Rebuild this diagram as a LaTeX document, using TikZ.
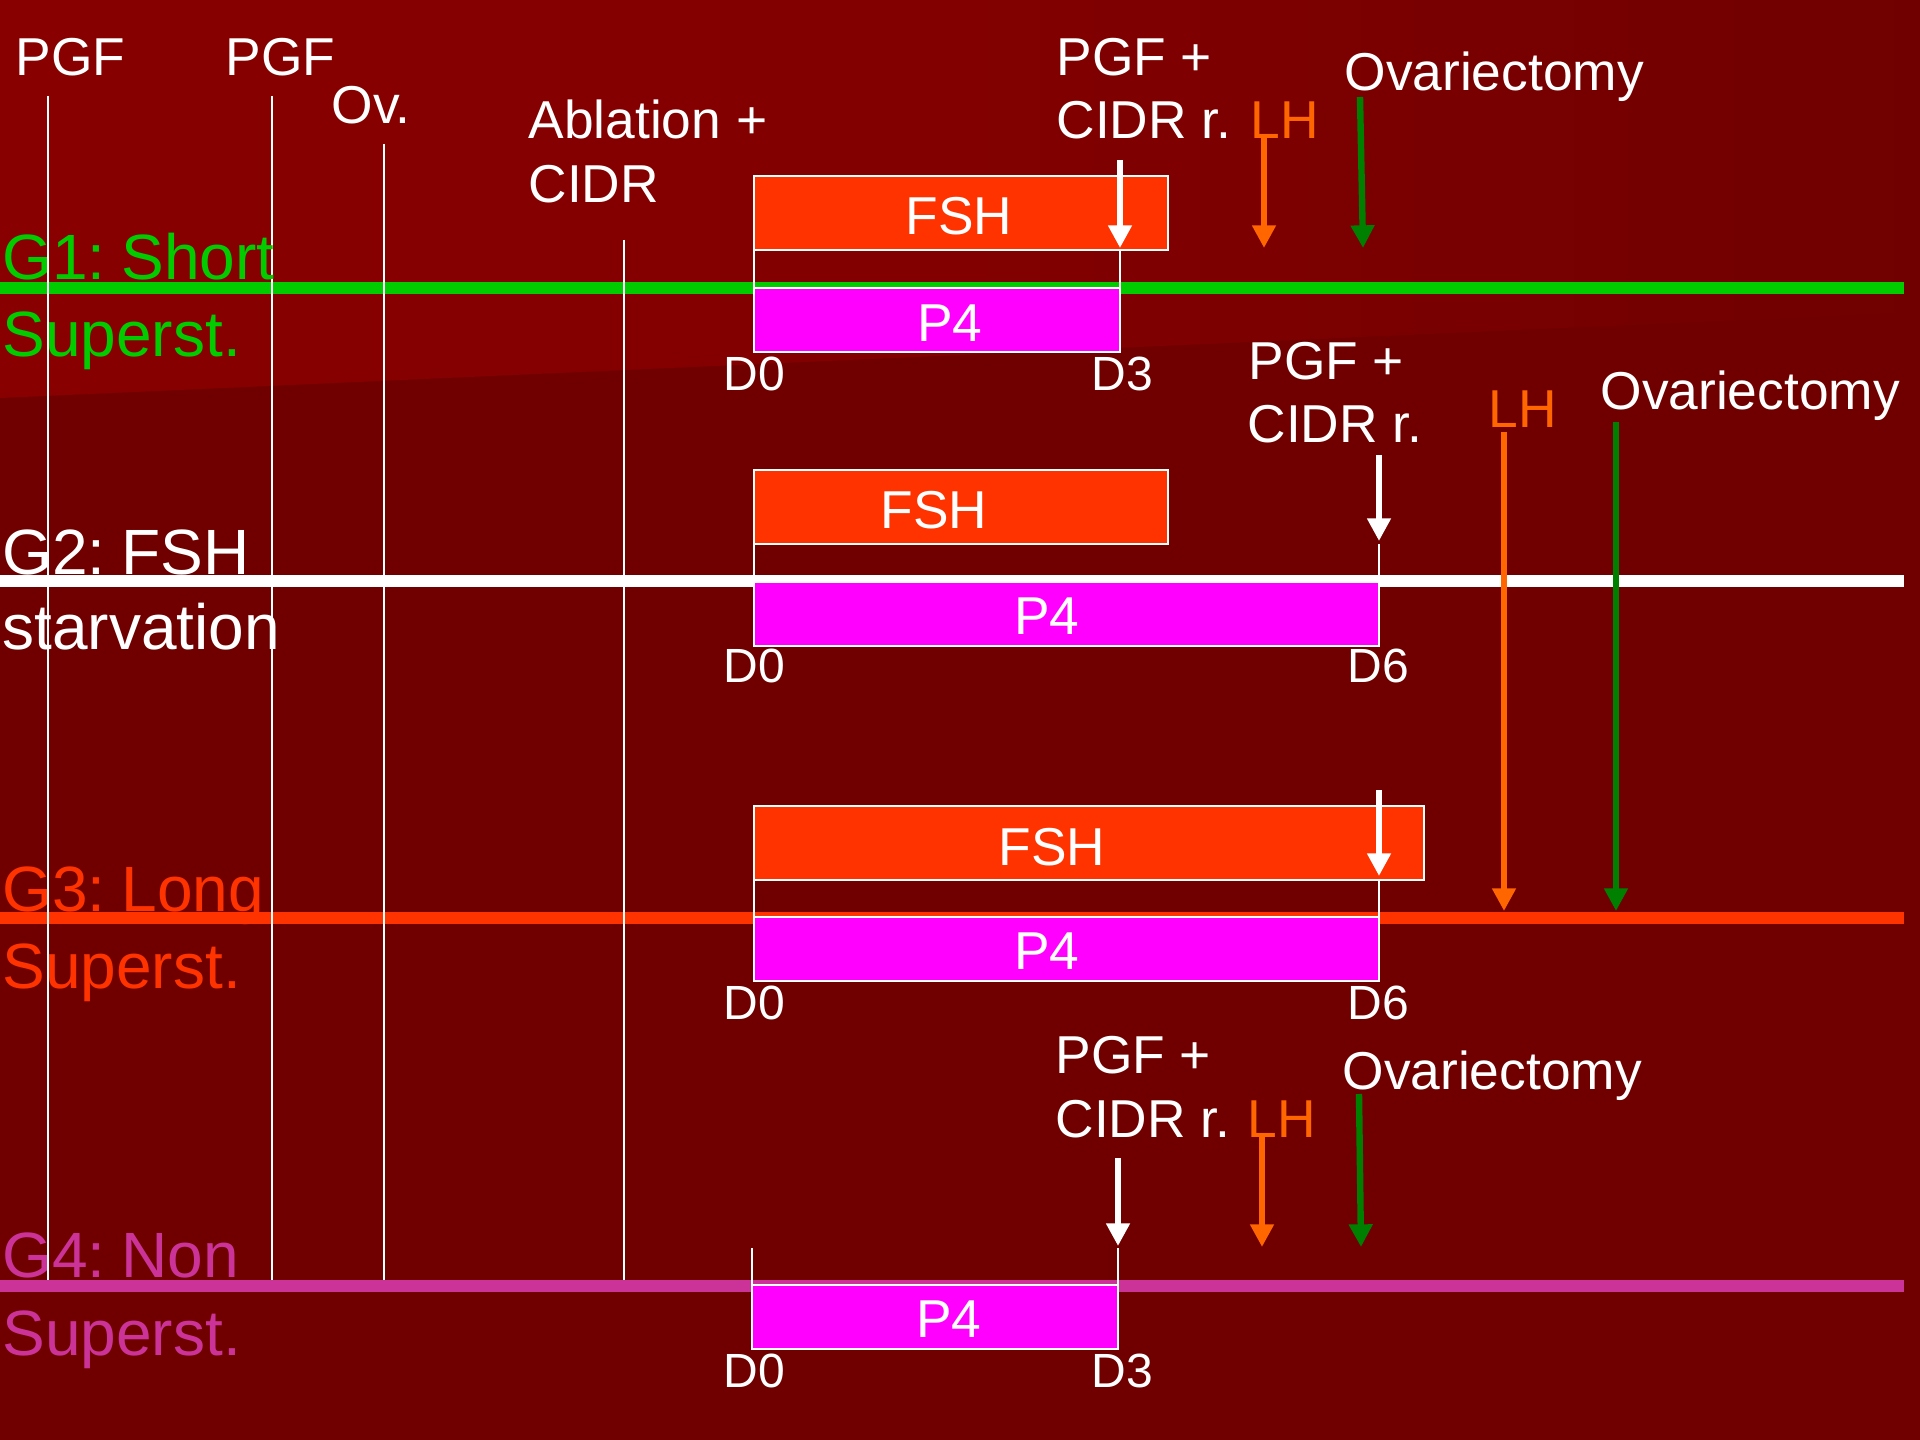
\documentclass[tikz,border=0pt]{standalone}
\usepackage{fontspec}
\setmainfont{Liberation Sans}
\usetikzlibrary{arrows.meta}
\definecolor{bgdark}{HTML}{700000}
\definecolor{bglight}{HTML}{880000}
\definecolor{gone}{HTML}{00CC00}
\definecolor{gthree}{HTML}{FF3300}
\definecolor{gfour}{HTML}{CC3399}
\definecolor{fshred}{HTML}{FF3300}
\definecolor{pmag}{HTML}{FF00FF}
\definecolor{lhorange}{HTML}{FF6600}
\definecolor{ovgreen}{HTML}{008000}
\tikzset{
  txt/.style={text=white, font=\fontsize{20}{24}\selectfont, anchor=base west, inner sep=0pt},
  boxtxt/.style={text=white, font=\fontsize{20}{24}\selectfont, anchor=base, inner sep=0pt},
  grptxt/.style={font=\fontsize{24}{29}\selectfont, anchor=base west, inner sep=0pt},
  daytxt/.style={text=white, font=\fontsize{18}{21}\selectfont, anchor=base west, inner sep=0pt},
  grpline/.style={line width=4.3pt},
  fshbox/.style={fill=fshred, draw=white, line width=0.75pt},
  pbox/.style={fill=pmag, draw=white, line width=0.75pt},
  thin/.style={draw=white, line width=0.75pt},
  marker/.style={white, line width=0.75pt},
  arr/.style={line width=2.4pt, -{Triangle[length=8.5pt, width=8.5pt]}},
}
\newcommand{\csp}{\hspace{0.25em}}
\begin{document}
\begin{tikzpicture}[x=0.375pt,y=-0.375pt]
\useasboundingbox (0,0) rectangle (1920,1440);
% background
\fill[bgdark] (0,0) rectangle (1920,1440);
\shade[left color=bglight, right color=bgdark, middle color=bglight!75!bgdark] (0,0) -- (1920,0) -- (1920,312) -- (0,398) -- cycle;

% group lines
\draw[grpline, gone] (0,288) -- (1904,288);
\draw[grpline, white] (0,581) -- (1904,581);
\draw[grpline, gthree] (0,918) -- (1904,918);
\draw[grpline, gfour] (0,1286) -- (1904,1286);

% boxes
\draw[fshbox] (754,176) rectangle (1168,250);
\draw[pbox] (754,288) rectangle (1120,352);
\draw[fshbox] (754,470) rectangle (1168,544);
\draw[pbox] (754,582) rectangle (1379,646);
\draw[fshbox] (754,806) rectangle (1424,880);
\draw[pbox] (754,917) rectangle (1379,981);
\draw[pbox] (752,1285) rectangle (1118,1349);

% thin connecting lines
\draw[thin] (754,250) -- (754,288);
\draw[thin] (1120,250) -- (1120,288);
\draw[thin] (754,544) -- (754,582);
\draw[thin] (1379,544) -- (1379,582);
\draw[thin] (754,880) -- (754,917);
\draw[thin] (1379,880) -- (1379,917);
\draw[thin] (752,1248) -- (752,1285);
\draw[thin] (1118,1248) -- (1118,1285);

% vertical event markers
\coordinate (m1t) at (48,96);   \coordinate (m1b) at (48,1280);
\coordinate (m2t) at (272,96);  \coordinate (m2b) at (272,1280);
\coordinate (m3t) at (384,144); \coordinate (m3b) at (384,1280);
\coordinate (m4t) at (624,240); \coordinate (m4b) at (624,1280);
\draw[marker] (m1t) -- (m1b);
\draw[marker] (m2t) -- (m2b);
\draw[marker] (m3t) -- (m3b);
\draw[marker] (m4t) -- (m4b);

% arrows G1
\coordinate (w1a) at (1120,160); \coordinate (w1b) at (1120,248);
\coordinate (o1a) at (1264,137); \coordinate (o1b) at (1264,248);
\coordinate (g1a) at (1360,97);  \coordinate (g1b) at (1363,248);
\draw[arr, white] (w1a) -- (w1b);
\draw[arr, lhorange] (o1a) -- (o1b);
\draw[arr, ovgreen] (g1a) -- (g1b);
% arrows G2
\coordinate (w2a) at (1379,455); \coordinate (w2b) at (1379,541);
\coordinate (o2a) at (1504,432); \coordinate (o2b) at (1504,911);
\coordinate (g2a) at (1616,422); \coordinate (g2b) at (1616,911);
\draw[arr, white] (w2a) -- (w2b);
\draw[arr, lhorange] (o2a) -- (o2b);
\draw[arr, ovgreen] (g2a) -- (g2b);
% arrows G3
\coordinate (w3a) at (1379,790); \coordinate (w3b) at (1379,876);
\draw[arr, white] (w3a) -- (w3b);
% arrows G4
\coordinate (w4a) at (1118,1158); \coordinate (w4b) at (1118,1246);
\coordinate (o4a) at (1262,1137); \coordinate (o4b) at (1262,1247);
\coordinate (g4a) at (1359,1094); \coordinate (g4b) at (1361,1247);
\draw[arr, white] (w4a) -- (w4b);
\draw[arr, lhorange] (o4a) -- (o4b);
\draw[arr, ovgreen] (g4a) -- (g4b);

% top-left labels
\node[txt] (pgf1) at (15,76) {PGF};
\node[txt] (pgf2) at (225,76) {PGF};
\node[txt] (ov) at (331,124) {Ov.};
\node[txt] (abl) at (528,139) {Ablation +};
\node[txt] (cidr) at (528,203) {CIDR};

% G1
\node[grptxt, text=gone] (g1l1) at (2,280) {G1:\csp Short};
\node[grptxt, text=gone] (g1l2) at (2,357) {Superst.};
\node[boxtxt] (fsh1t) at (959,235) {FSH};
\node[boxtxt] (p41t) at (950,342) {P4};
\node[daytxt] (d0a) at (723,391) {D0};
\node[daytxt] (d3a) at (1091,391) {D3};
\node[txt] (pgfa) at (1056,76) {PGF +};
\node[txt] (cidra) at (1056,139) {CIDR r.};
\node[txt, text=lhorange] (lha) at (1250,139) {LH};
\node[txt] (ovxa) at (1344,91) {Ovariectomy};

% G2
\node[grptxt, text=white] (g2l1) at (2,574) {G2:\csp FSH};
\node[grptxt, text=white] (g2l2) at (2,650) {starvation};
\node[boxtxt] (fsh2t) at (934,529) {FSH};
\node[boxtxt] (p42t) at (1047,634) {P4};
\node[daytxt] (d0b) at (723,682) {D0};
\node[daytxt] (d6b) at (1347,682) {D6};
\node[txt] (pgfb) at (1248,380) {PGF +};
\node[txt] (cidrb) at (1247,443) {CIDR r.};
\node[txt, text=lhorange] (lhb) at (1488,428) {LH};
\node[txt] (ovxb) at (1600,410) {Ovariectomy};

% G3
\node[grptxt, text=gthree] (g3l1) at (2,911) {G3:\csp Long};
\node[grptxt, text=gthree] (g3l2) at (2,988) {Superst.};
\node[boxtxt] (fsh3t) at (1052,865) {FSH};
\node[boxtxt] (p43t) at (1047,969) {P4};
\node[daytxt] (d0c) at (723,1019) {D0};
\node[daytxt] (d6c) at (1347,1019) {D6};

% G4
\node[grptxt, text=gfour] (g4l1) at (2,1277) {G4:\csp Non};
\node[grptxt, text=gfour] (g4l2) at (2,1355) {Superst.};
\node[boxtxt] (p44t) at (949,1337) {P4};
\node[daytxt] (d0d) at (723,1387) {D0};
\node[daytxt] (d3d) at (1091,1387) {D3};
\node[txt] (pgfd) at (1055,1073) {PGF +};
\node[txt] (cidrd) at (1055,1137) {CIDR r.};
\node[txt, text=lhorange] (lhd) at (1247,1137) {LH};
\node[txt] (ovxd) at (1342,1089) {Ovariectomy};
\end{tikzpicture}
\end{document}
